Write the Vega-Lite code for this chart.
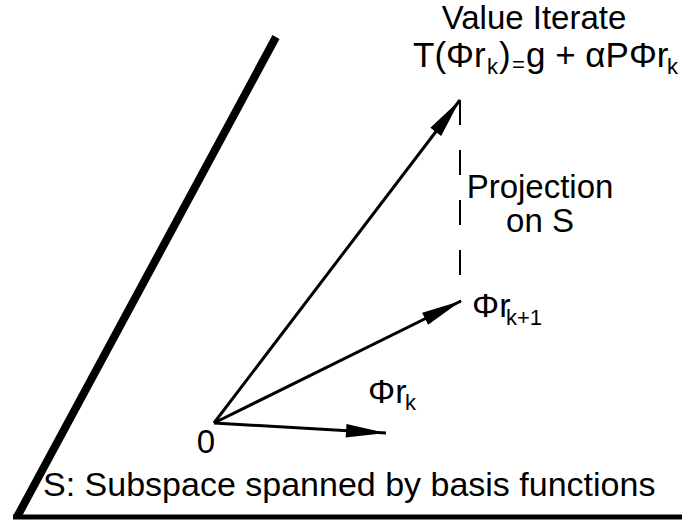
{
  "$schema": "https://vega.github.io/schema/vega-lite/v6.json",
  "width": 688,
  "height": 523,
  "autosize": {"type": "fit", "contains": "padding"},
  "padding": 0,
  "background": "white",
  "config": {"view": {"stroke": null}},
  "layer": [
    {
      "data": {"values": [{"x": 276, "y": 486, "x2": 17, "y2": 6}]},
      "mark": {"type": "rule", "color": "black", "strokeWidth": 8},
      "encoding": {
        "x": {"field": "x", "type": "quantitative", "scale": {"domain": [0, 688], "nice": false, "zero": false}, "axis": null},
        "y": {"field": "y", "type": "quantitative", "scale": {"domain": [0, 523], "nice": false, "zero": false}, "axis": null},
        "x2": {"field": "x2"},
        "y2": {"field": "y2"}
      }
    },
    {
      "data": {"values": [{"x": 13, "y": 6, "x2": 682, "y2": 6}]},
      "mark": {"type": "rule", "color": "black", "strokeWidth": 5},
      "encoding": {
        "x": {"field": "x", "type": "quantitative", "scale": {"domain": [0, 688], "nice": false, "zero": false}, "axis": null},
        "y": {"field": "y", "type": "quantitative", "scale": {"domain": [0, 523], "nice": false, "zero": false}, "axis": null},
        "x2": {"field": "x2"},
        "y2": {"field": "y2"}
      }
    },
    {
      "data": {"values": [{"x": 460, "y": 423, "y2": 220}]},
      "mark": {"type": "rule", "color": "black", "strokeWidth": 2, "strokeDash": [25, 25]},
      "encoding": {
        "x": {"field": "x", "type": "quantitative", "scale": {"domain": [0, 688], "nice": false, "zero": false}, "axis": null},
        "y": {"field": "y", "type": "quantitative", "scale": {"domain": [0, 523], "nice": false, "zero": false}, "axis": null},
        "y2": {"field": "y2"}
      }
    },
    {
      "data": {"values": [
        {"vector": "T(Phi r_k)", "x0": 214, "y0": 100, "x": 460, "y": 423, "deg": 37.3},
        {"vector": "Phi r_k+1", "x0": 214, "y0": 100, "x": 461, "y": 222, "deg": 63.7},
        {"vector": "Phi r_k", "x0": 214, "y0": 100, "x": 386, "y": 90, "deg": 93.3}
      ]},
      "layer": [
        {
          "mark": {"type": "rule", "color": "black", "strokeWidth": 3},
          "encoding": {
            "x": {"field": "x0", "type": "quantitative", "scale": {"domain": [0, 688], "nice": false, "zero": false}, "axis": null},
            "y": {"field": "y0", "type": "quantitative", "scale": {"domain": [0, 523], "nice": false, "zero": false}, "axis": null},
            "x2": {"field": "x"},
            "y2": {"field": "y"}
          }
        },
        {
          "mark": {"type": "point", "filled": true, "color": "black", "opacity": 1, "strokeWidth": 0, "size": 1600, "shape": "M0,0L-0.34,2L0.34,2Z"},
          "encoding": {
            "x": {"field": "x", "type": "quantitative", "scale": {"domain": [0, 688], "nice": false, "zero": false}, "axis": null},
            "y": {"field": "y", "type": "quantitative", "scale": {"domain": [0, 523], "nice": false, "zero": false}, "axis": null},
            "angle": {"field": "deg", "type": "quantitative", "scale": null}
          }
        }
      ]
    },
    {
      "data": {"values": [
        {"x": 413, "y": 456, "t": "T(Φr"},
        {"x": 499, "y": 456, "t": ")"},
        {"x": 526, "y": 456, "t": "g + αPΦr"}
      ]},
      "mark": {"type": "text", "align": "left", "baseline": "alphabetic", "font": "Liberation Sans", "fontSize": 35, "color": "black"},
      "encoding": {
        "x": {"field": "x", "type": "quantitative", "scale": {"domain": [0, 688], "nice": false, "zero": false}, "axis": null},
        "y": {"field": "y", "type": "quantitative", "scale": {"domain": [0, 523], "nice": false, "zero": false}, "axis": null},
        "text": {"field": "t"}
      }
    },
    {
      "data": {"values": [
        {"x": 472, "y": 206, "t": "Φr"},
        {"x": 368, "y": 120, "t": "Φr"},
        {"x": 43, "y": 27, "t": "S: Subspace spanned by basis functions"}
      ]},
      "mark": {"type": "text", "align": "left", "baseline": "alphabetic", "font": "Liberation Sans", "fontSize": 34, "color": "black"},
      "encoding": {
        "x": {"field": "x", "type": "quantitative", "scale": {"domain": [0, 688], "nice": false, "zero": false}, "axis": null},
        "y": {"field": "y", "type": "quantitative", "scale": {"domain": [0, 523], "nice": false, "zero": false}, "axis": null},
        "text": {"field": "t"}
      }
    },
    {
      "data": {"values": [
        {"x": 534, "y": 494, "t": "Value Iterate"},
        {"x": 540, "y": 325, "t": "Projection"},
        {"x": 540, "y": 291, "t": "on S"},
        {"x": 206, "y": 70, "t": "0"}
      ]},
      "mark": {"type": "text", "align": "center", "baseline": "alphabetic", "font": "Liberation Sans", "fontSize": 33, "color": "black"},
      "encoding": {
        "x": {"field": "x", "type": "quantitative", "scale": {"domain": [0, 688], "nice": false, "zero": false}, "axis": null},
        "y": {"field": "y", "type": "quantitative", "scale": {"domain": [0, 523], "nice": false, "zero": false}, "axis": null},
        "text": {"field": "t"}
      }
    },
    {
      "data": {"values": [
        {"x": 487, "y": 449, "t": "k"},
        {"x": 512, "y": 451, "t": "="},
        {"x": 667, "y": 449, "t": "k"},
        {"x": 506, "y": 198, "t": "k+1"},
        {"x": 405, "y": 113, "t": "k"}
      ]},
      "mark": {"type": "text", "align": "left", "baseline": "alphabetic", "font": "Liberation Sans", "fontSize": 22, "color": "black"},
      "encoding": {
        "x": {"field": "x", "type": "quantitative", "scale": {"domain": [0, 688], "nice": false, "zero": false}, "axis": null},
        "y": {"field": "y", "type": "quantitative", "scale": {"domain": [0, 523], "nice": false, "zero": false}, "axis": null},
        "text": {"field": "t"}
      }
    }
  ]
}
